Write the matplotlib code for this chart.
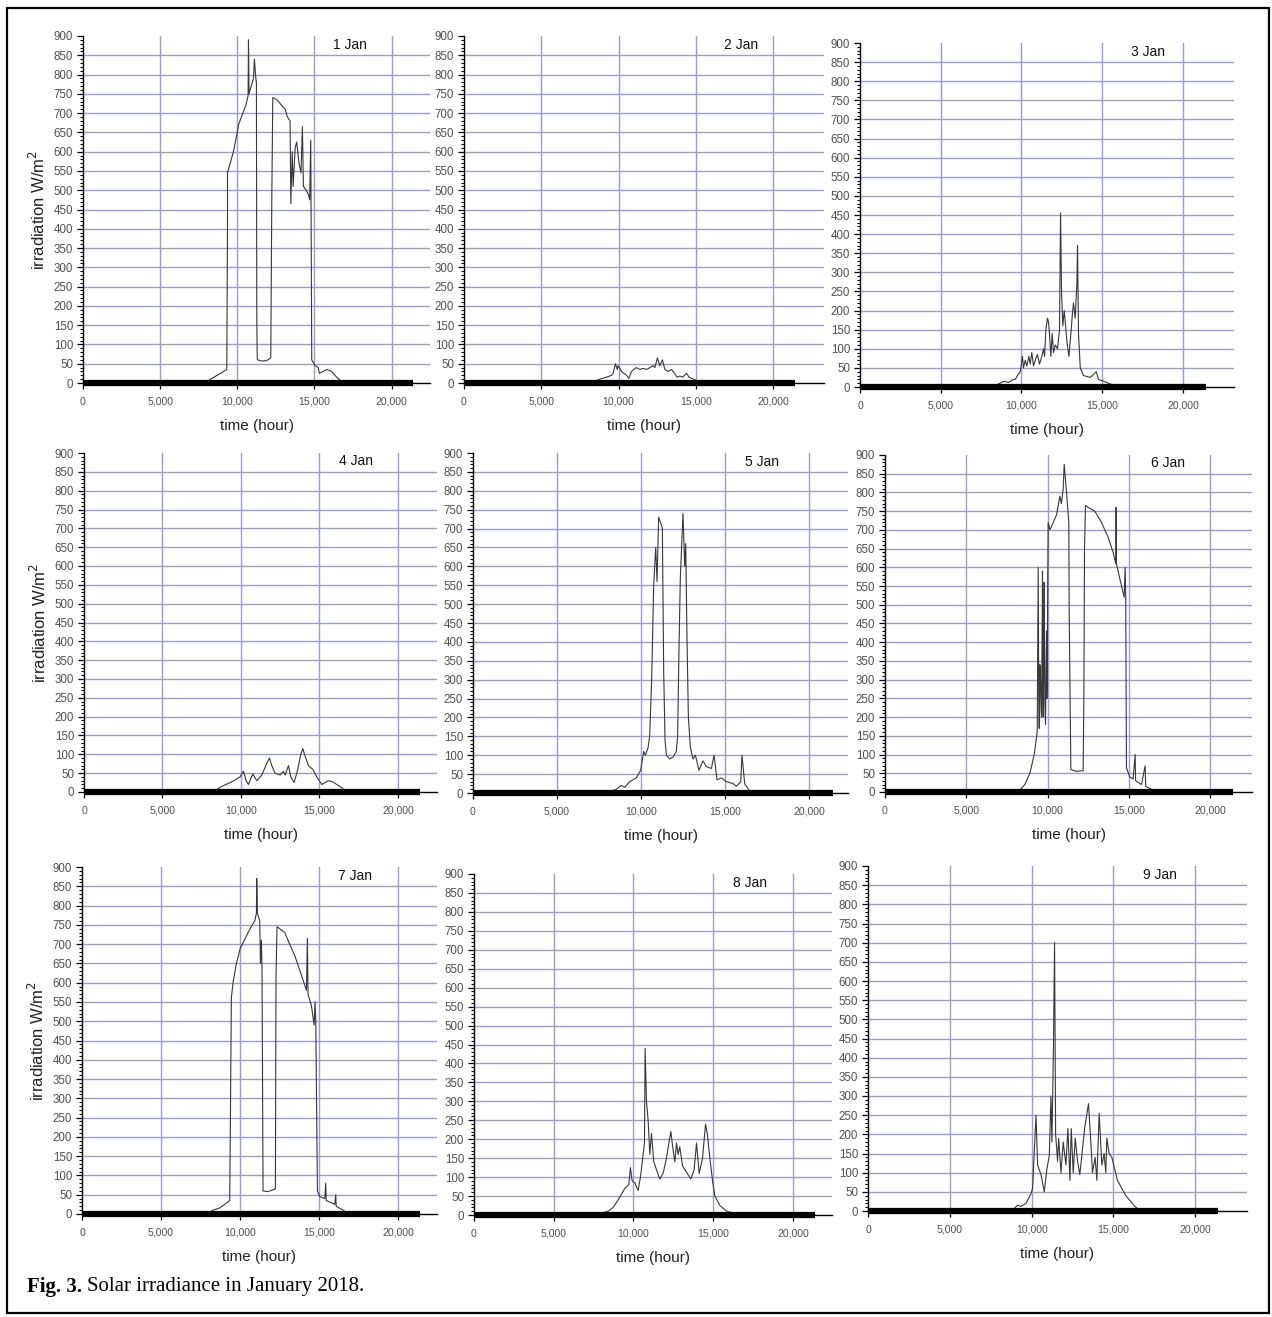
import matplotlib.pyplot as plt
from matplotlib.patches import Rectangle
from matplotlib.ticker import MultipleLocator, FuncFormatter

plt.rcParams['font.family'] = ['Liberation Sans', 'DejaVu Sans']

# ---- data (time in "hour" units as labelled, irradiance W/m2) ----
days = ['1 Jan', '2 Jan', '3 Jan', '4 Jan', '5 Jan', '6 Jan', '7 Jan', '8 Jan', '9 Jan']
record_end = 21400  # end of logged day (thick zero baseline)

jan1_t = [0, 7855, 9320, 9365, 9365, 9750, 10000, 10080, 10360, 10550, 10700, 10725, 10760,
          10900, 11050, 11110, 11200, 11240, 11265, 11290, 11310, 11600, 11900, 12170,
          12235, 12300, 12560, 12880, 13100, 13250, 13420, 13470, 13560, 13620, 13750,
          13850, 14000, 14130, 14220, 14285, 14460, 14600, 14690, 14760, 14780, 14825,
          15040, 15250, 15320, 15800, 16120, 16440, 16875, record_end]
jan1_w = [0, 0, 35, 410, 545, 600, 650, 670, 700, 720, 745, 890, 750,
          770, 790, 840, 790, 780, 160, 70, 60, 57, 58, 65,
          470, 740, 735, 720, 710, 690, 680, 465, 600, 510, 610,
          625, 570, 545, 665, 510, 500, 490, 475, 630, 470, 60,
          45, 40, 25, 35, 30, 15, 0, 0]

jan2_t = [0, 8255, 8790, 9220, 9550, 9650, 9805, 9915, 9980, 10190, 10515, 10670, 10840,
          10990, 11160, 11380, 11590, 11810, 12030, 12240, 12350, 12520, 12670, 12845,
          13000, 13210, 13430, 13640, 13790, 13970, 14150, 14400, 14570, 14830, 15150,
          15365, 15690, 16080, record_end]
jan2_w = [0, 0, 10, 15, 20, 25, 50, 35, 45, 30, 20, 12, 30,
          35, 40, 35, 38, 35, 40, 45, 40, 65, 45, 60,
          35, 30, 35, 25, 15, 18, 15, 25, 15, 10, 5,
          7, 3, 0, 0]

jan3_t = [0, 8160, 8680, 8925, 9195, 9400, 9610, 9750, 9920, 9980, 10060, 10120, 10230,
          10330, 10455, 10540, 10640, 10745, 10890, 10990, 11115, 11260, 11365, 11430,
          11510, 11610, 11670, 11735, 11820, 11900, 11985, 12090, 12230, 12355, 12420,
          12480, 12560, 12645, 12730, 12810, 12935, 13060, 13160, 13220, 13325, 13430,
          13470, 13530, 13640, 13840, 14260, 14630, 14770, 15080, 15495, 15910, 16735,
          record_end]
jan3_w = [0, 0, 10, 15, 12, 18, 20, 30, 40, 55, 80, 50, 70,
          55, 80, 60, 90, 55, 75, 85, 60, 80, 100, 80,
          150, 180, 170, 140, 80, 140, 90, 110, 100, 150, 455,
          250, 160, 200, 160, 120, 80, 140, 195, 220, 180, 270,
          370, 140, 50, 30, 25, 40, 20, 15, 8, 3, 0,
          0]

jan4_t = [0, 7820, 8350, 8775, 9310, 9560, 9730, 9945, 10160, 10330, 10475, 10750, 11010,
          11325, 11690, 11815, 11965, 12175, 12495, 12705, 12815, 13025, 13175, 13385,
          13620, 13810, 13940, 14090, 14300, 14580, 14830, 15150, 15575, 15790, 16105,
          16640, 16850, record_end]
jan4_w = [0, 0, 5, 15, 25, 30, 35, 40, 55, 30, 20, 48, 30,
          45, 80, 90, 70, 50, 45, 55, 45, 70, 40, 25,
          60, 100, 115, 95, 70, 60, 40, 20, 30, 28, 20,
          5, 0, 0]

jan5_t = [0, 7940, 8530, 8830, 9030, 9325, 9720, 9980, 10160, 10260, 10420, 10515, 10635,
          10755, 10875, 10955, 11050, 11210, 11270, 11350, 11430, 11510, 11705, 11905,
          12100, 12180, 12260, 12340, 12500, 12600, 12660, 12740, 12820, 12940, 13095,
          13235, 13450, 13690, 13890, 14190, 14345, 14525, 14780, 15080, 15475, 15675,
          15935, 16010, 16170, 16470, 16765, record_end]
jan5_w = [0, 0, 10, 20, 15, 30, 40, 60, 110, 100, 120, 150, 300,
          550, 650, 560, 730, 710, 700, 320, 140, 100, 90, 95,
          110, 150, 380, 570, 740, 600, 660, 400, 200, 120, 90,
          100, 60, 85, 70, 65, 100, 35, 40, 30, 25, 18,
          30, 100, 25, 5, 0, 0]

jan6_t = [0, 7685, 8300, 8605, 8915, 9180, 9365, 9425, 9460, 9490, 9530, 9570, 9600, 9630,
          9660, 9690, 9715, 9735, 9765, 9795, 9835, 9875, 9910, 9940, 9960, 9980, 10010,
          10040, 10145, 10350, 10555, 10760, 10850, 10965,
          11025, 11170, 11310, 11330, 11435, 11780, 12190, 12235, 12275, 12335, 12500,
          12910, 13320, 13730, 14035, 14200, 14220, 14240, 14445, 14715, 14775, 14810,
          14855, 15060, 15265, 15390, 15420, 15780, 16005, 16040, 16495, 16905, record_end]
jan6_w = [0, 0, 5, 20, 50, 100, 160, 600, 250, 170, 340, 300, 220, 200,
          380, 590, 260, 200, 350, 560, 240, 180, 330, 430, 250, 300, 550,
          720, 700, 720, 740, 790, 770, 810,
          875, 800, 720, 490, 60, 55, 57, 250, 650, 765, 760,
          750, 720, 680, 640, 610, 760, 610, 570, 520, 600, 530,
          65, 40, 35, 100, 30, 20, 70, 15, 5, 0, 0]

jan7_t = [0, 7870, 8290, 8670, 9030, 9345, 9390, 9450, 9555, 9770, 10020, 10150, 10505,
          10780, 10930, 11035, 11055, 11100, 11245, 11290, 11350, 11390, 11455, 11770,
          12235, 12275, 12340, 12510, 12825, 13140, 13460, 13880, 14200, 14260, 14300,
          14515, 14685, 14745, 14790, 14895, 15040, 15360, 15420, 15450, 15990, 16055,
          16080, 16520, 16900, record_end]
jan7_w = [0, 0, 10, 15, 25, 35, 250, 560, 600, 650, 690, 700, 730,
          750, 760, 780, 870, 780, 760, 650, 710, 630, 60, 58,
          65, 620, 745, 740, 730, 700, 670, 620, 580, 715, 570,
          540, 490, 550, 500, 60, 45, 40, 80, 35, 25, 50,
          20, 10, 0, 0]

jan8_t = [0, 7680, 8410, 8725, 9040, 9455, 9705, 9810, 9915, 10085, 10290, 10440, 10605,
          10690, 10730, 10815, 10920, 11025, 11130, 11275, 11440, 11650, 11860, 12070,
          12240, 12345, 12490, 12595, 12700, 12800, 12905, 13075, 13220, 13600, 13805,
          13955, 14120, 14330, 14520, 14645, 14790, 14960, 15105, 15420, 15840, 16675,
          record_end]
jan8_w = [0, 0, 10, 20, 40, 70, 80, 125, 90, 85, 65, 100, 160,
          190, 440, 300, 250, 160, 215, 140, 120, 95, 110, 150,
          195, 220, 170, 140, 190, 160, 180, 130, 120, 95, 120,
          190, 110, 150, 240, 210, 150, 90, 50, 25, 10, 0,
          0]

jan9_t = [0, 8230, 8840, 9145, 9350, 9655, 9960, 10060, 10265, 10365, 10570, 10770, 10935,
          11080, 11180, 11240, 11340, 11400, 11465, 11585, 11650, 11790, 11930, 12095,
          12215, 12340, 12420, 12540, 12665, 12805, 12945, 13250, 13475, 13615, 13720,
          13880, 13985, 14125, 14290, 14430, 14530, 14595, 14735, 14900, 15245, 15750,
          16360, 16665, record_end]
jan9_w = [0, 0, 3, 15, 12, 20, 45, 60, 250, 120, 95, 50, 110,
          145, 300, 180, 450, 700, 200, 130, 190, 100, 180, 120,
          215, 80, 215, 100, 190, 130, 95, 220, 280, 180, 100,
          140, 80, 255, 120, 150, 100, 190, 150, 140, 80, 40,
          10, 0, 0]

series_t = [jan1_t, jan2_t, jan3_t, jan4_t, jan5_t, jan6_t, jan7_t, jan8_t, jan9_t]
series_w = [jan1_w, jan2_w, jan3_w, jan4_w, jan5_w, jan6_w, jan7_w, jan8_w, jan9_w]

# ---- layout (pixel boxes of each plot area: left, right, top, bottom) ----
W, H = 1272, 1317
boxes = [(83, 430, 36, 383), (464, 824, 36, 383), (860, 1234, 43, 387),
         (84, 437, 453, 792), (473, 848, 453, 793), (885, 1252, 455, 792),
         (82, 437, 867, 1214), (474, 832, 874, 1215), (868, 1247, 866, 1211)]
x_right = [22490, 23300, 23160, 22490, 22320, 22580, 22460, 22450, 23160]

grid_c = '#9a9ad4'
tick_c = '#505050'

fig = plt.figure(figsize=(W / 100, H / 100), dpi=100)
fig.patches.append(Rectangle((7 / W, 1 - 1313 / H), 1262 / W, 1305 / H, transform=fig.transFigure,
                             fill=False, edgecolor='black', linewidth=1.6))

for i, (l, r, t, b) in enumerate(boxes):
    ax = fig.add_axes([l / W, 1 - b / H, (r - l) / W, (b - t) / H])
    ax.set_xlim(0, x_right[i])
    ax.set_ylim(0, 900)
    for v in range(50, 900, 50):
        ax.axhline(v, color=grid_c, lw=1.0, zorder=1)
    for v in range(5000, 25000, 5000):
        if v < x_right[i]:
            ax.axvline(v, color=grid_c, lw=1.0, zorder=1)

    ax.plot(series_t[i], series_w[i], color='#383838', lw=0.8, zorder=3)
    ax.plot([0, record_end], [0, 0], color='black', lw=4.5, solid_capstyle='butt',
            clip_on=False, zorder=4)

    for s in ('top', 'right'):
        ax.spines[s].set_visible(False)
    for s in ('left', 'bottom'):
        ax.spines[s].set_color('black')
        ax.spines[s].set_linewidth(1.0)

    ax.set_xticks(range(0, 25000, 5000))
    ax.xaxis.set_major_formatter(FuncFormatter(lambda v, p: f'{int(v):,}'))
    ax.yaxis.set_major_locator(MultipleLocator(50))
    ax.yaxis.set_minor_locator(MultipleLocator(10))
    ax.tick_params(axis='both', which='major', direction='out', length=4, width=0.9,
                   labelcolor=tick_c, color='black', pad=3)
    ax.tick_params(axis='y', which='major', labelsize=8.3)
    ax.tick_params(axis='y', which='minor', direction='out', length=2.5, width=0.8, color='black')
    ax.tick_params(axis='x', which='major', pad=6, labelsize=7.6)

    ax.set_xlabel('time (hour)', fontsize=11, color='#222222', labelpad=9)
    if i % 3 == 0:
        ax.set_ylabel('irradiation W/m$^2$', fontsize=12, color='#222222', labelpad=4)
    ax.text(0.77, 0.975, days[i], transform=ax.transAxes, ha='center', va='center',
            fontsize=10, color='#111111')

# caption
cap1 = fig.text(27 / W, 1 - 1287 / H, 'Fig. 3.', fontsize=15, fontweight='bold',
                family=['Liberation Serif'], va='center', ha='left')
fig.canvas.draw()
bb = cap1.get_window_extent()
fig.text((bb.x1 + 5) / W, 1 - 1287 / H, 'Solar irradiance in January 2018.', fontsize=15,
         family=['Liberation Serif'], va='center', ha='left')

fig.savefig('out.png', dpi=100, facecolor='white')
